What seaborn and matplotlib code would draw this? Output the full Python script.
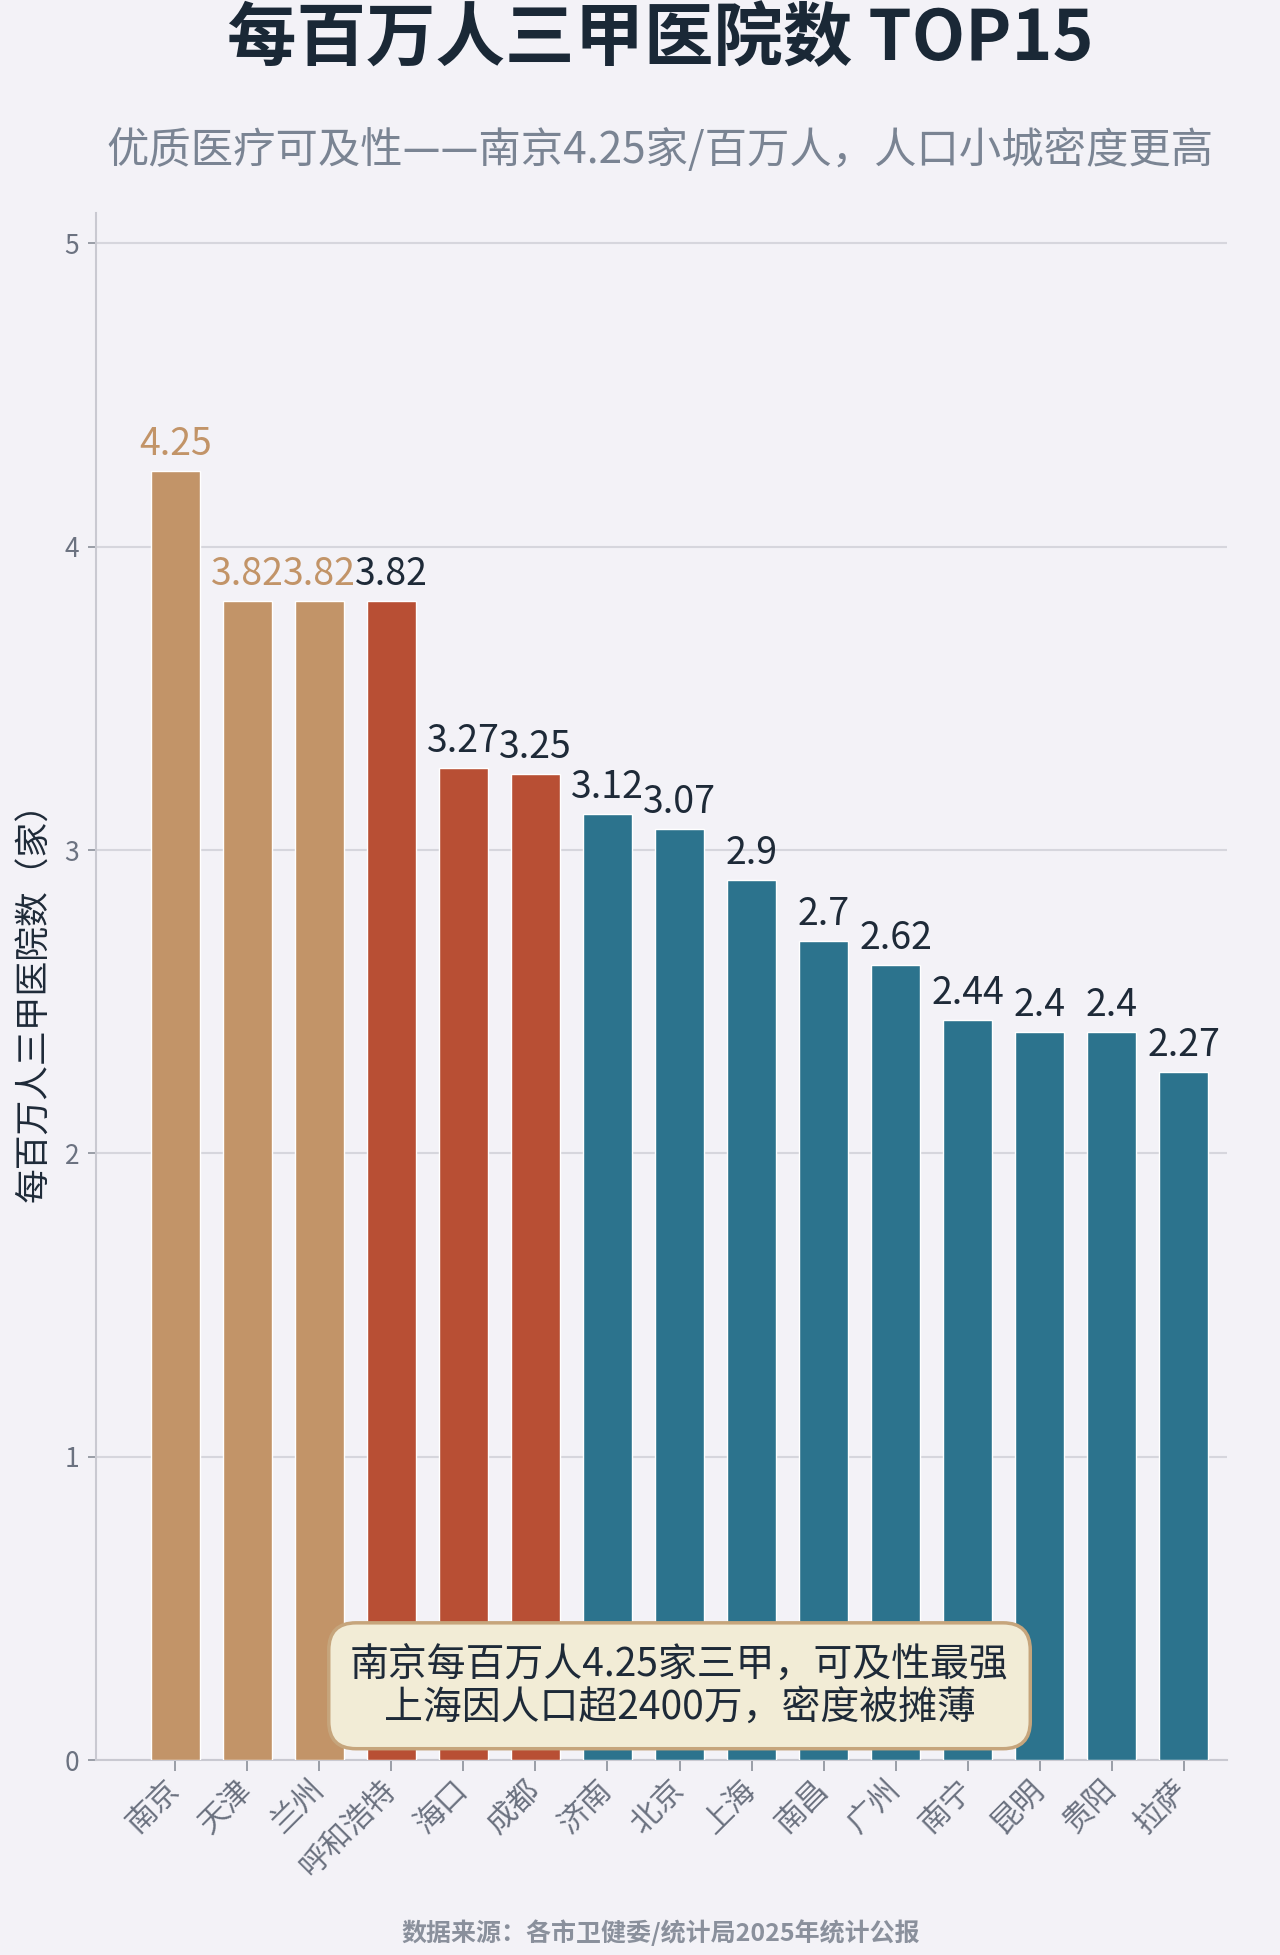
import matplotlib
matplotlib.use("Agg")
import matplotlib.pyplot as plt
import seaborn as sns
import pandas as pd

cities = ["南京", "天津", "兰州", "呼和浩特", "海口", "成都", "济南", "北京",
          "上海", "南昌", "广州", "南宁", "昆明", "贵阳", "拉萨"]
values = [4.25, 3.82, 3.82, 3.82, 3.27, 3.25, 3.12, 3.07,
          2.9, 2.7, 2.62, 2.44, 2.4, 2.4, 2.27]
labels = ["4.25", "3.82", "3.82", "3.82", "3.27", "3.25", "3.12", "3.07",
          "2.9", "2.7", "2.62", "2.44", "2.4", "2.4", "2.27"]
groups = ["tan"] * 3 + ["red"] * 3 + ["teal"] * 9
yticks = [0, 1, 2, 3, 4, 5]

title = "每百万人三甲医院数 TOP15"
subtitle = "优质医疗可及性——南京4.25家/百万人，人口小城密度更高"
ylabel = "每百万人三甲医院数（家）"
note = "南京每百万人4.25家三甲，可及性最强\n上海因人口超2400万，密度被摊薄"
source = "数据来源：各市卫健委/统计局2025年统计公报"

BG = "#F3F2F7"
group_colors = {"tan": "#C29468", "red": "#B84F34", "teal": "#2C738D"}
label_colors_list = ["#C29468", "#C29468", "#C29468"] + ["#1E2A38"] * 12

sns.set_theme(style="white")
plt.rcParams["font.family"] = ["Noto Sans CJK SC", "DejaVu Sans"]

df = pd.DataFrame({"city": cities, "value": values, "group": groups})

fig = plt.figure(figsize=(12.8, 19.55), dpi=100, facecolor=BG)
ax = fig.add_axes([0.075, 0.0997, 0.8836, 0.7913])
ax.set_facecolor(BG)

palette = {c: group_colors[g] for c, g in zip(cities, groups)}
sns.barplot(data=df, x="city", y="value", hue="city", palette=palette,
            legend=False, width=0.68, saturation=1, ax=ax, zorder=3)

ax.set_ylim(0, 5.1)
ax.set_xlim(-1.1, 14.6)
ax.set_yticks(yticks)
ax.set_yticklabels([str(t) for t in yticks])
ax.yaxis.grid(True, color="#D6D6DD", linewidth=1.5, zorder=0)
ax.xaxis.grid(False)
ax.set_axisbelow(True)

for s in ["top", "right"]:
    ax.spines[s].set_visible(False)
for s in ["left", "bottom"]:
    ax.spines[s].set_color("#C9C9D1")
    ax.spines[s].set_linewidth(1.5)

ax.tick_params(axis="y", length=6, width=1.2, color="#8A8F99",
               labelsize=19, labelcolor="#6B7280", pad=6, left=True)
ax.tick_params(axis="x", length=8, width=1.2, color="#8A8F99",
               labelsize=22, labelcolor="#6B7280", pad=10, bottom=True)
for lab in ax.get_xticklabels():
    lab.set_rotation(45)
    lab.set_ha("right")
    lab.set_va("center")
    lab.set_rotation_mode("anchor")

ax.set_xlabel("")
ax.set_ylabel("")

for i, (v, lab) in enumerate(zip(values, labels)):
    ax.annotate(lab, xy=(i, v), xytext=(0, 5), textcoords="offset points",
                ha="center", va="bottom", fontsize=27,
                color=label_colors_list[i], zorder=5)

# note box
ax.text(7.0, 0.245, note, ha="center", va="center", fontsize=28,
        color="#1E2A38", linespacing=1.1, zorder=6,
        bbox=dict(boxstyle="round,pad=0.55,rounding_size=0.7",
                  facecolor="#F2ECD6", edgecolor="#C6A57C", linewidth=2.5))

fig.text(0.516, 0.9795, title, ha="center", va="center", fontsize=50,
         fontweight="heavy", color="#1A2836")
fig.text(0.516, 0.923, subtitle, ha="center", va="center", fontsize=30.5,
         color="#7A8493")
fig.text(0.027, 0.492, ylabel, ha="center", va="center", rotation=90,
         fontsize=25, color="#1E2A38")
fig.text(0.516, 0.0115, source, ha="center", va="center", fontsize=18,
         color="#8A909C", fontweight="bold")

fig.savefig("out.png", dpi=100, facecolor=BG)
